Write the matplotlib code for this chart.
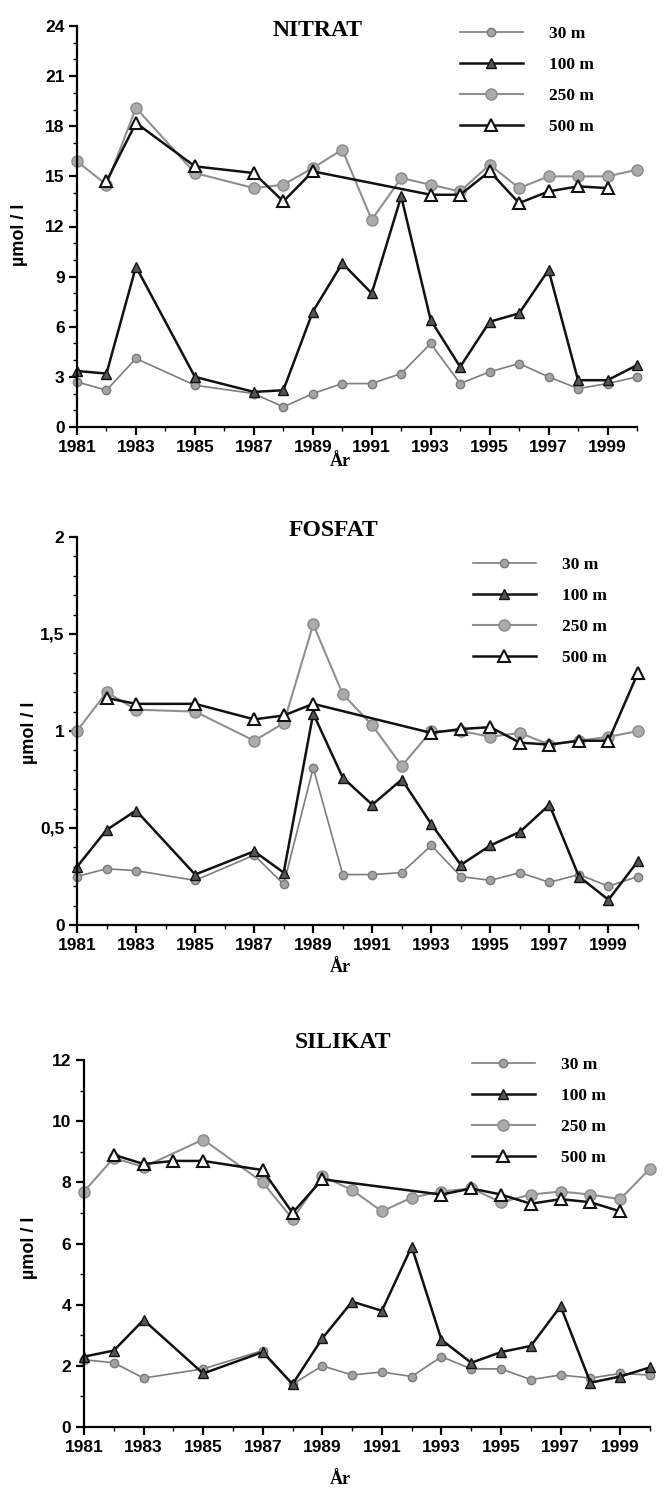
import numpy as np
import matplotlib
matplotlib.use('Agg')
import matplotlib.pyplot as plt
from matplotlib.ticker import FixedLocator, MultipleLocator, FuncFormatter
from matplotlib.font_manager import FontProperties

nan = np.nan
years = list(range(1981, 2001))
depth_labels = ['30 m', '100 m', '250 m', '500 m']

# NITRAT (umol/l)
nitrat_30 = [2.7, 2.2, 4.1, nan, 2.5, nan, 2.0, 1.2, 2.0, 2.6, 2.6, 3.2, 5.0, 2.6, 3.3, 3.8, 3.0, 2.3, 2.6, 3.0]
nitrat_100 = [3.35, 3.2, 9.6, nan, 3.0, nan, 2.1, 2.2, 6.9, 9.8, 8.0, 13.8, 6.4, 3.6, 6.3, 6.8, 9.4, 2.8, 2.8, 3.7]
nitrat_250 = [15.9, 14.5, 19.1, nan, 15.2, nan, 14.3, 14.5, 15.5, 16.6, 12.4, 14.9, 14.5, 14.1, 15.7, 14.3, 15.0, 15.0, 15.0, 15.4]
nitrat_500 = [nan, 14.7, 18.2, nan, 15.6, nan, 15.2, 13.5, 15.3, nan, nan, nan, 13.9, 13.9, 15.3, 13.4, 14.1, 14.4, 14.3, nan]

# FOSFAT
fosfat_30 = [0.25, 0.29, 0.28, nan, 0.23, nan, 0.36, 0.21, 0.81, 0.26, 0.26, 0.27, 0.41, 0.25, 0.23, 0.27, 0.22, 0.26, 0.20, 0.25]
fosfat_100 = [0.30, 0.49, 0.59, nan, 0.26, nan, 0.38, 0.27, 1.09, 0.76, 0.62, 0.75, 0.52, 0.31, 0.41, 0.48, 0.62, 0.25, 0.13, 0.33]
fosfat_250 = [1.00, 1.20, 1.11, nan, 1.10, nan, 0.95, 1.04, 1.55, 1.19, 1.03, 0.82, 1.00, 1.00, 0.97, 0.99, 0.93, 0.95, 0.97, 1.00]
fosfat_500 = [nan, 1.17, 1.14, nan, 1.14, nan, 1.06, 1.08, 1.14, nan, nan, nan, 0.99, 1.01, 1.02, 0.94, 0.93, 0.95, 0.95, 1.30]

# SILIKAT
silikat_30 = [2.2, 2.1, 1.6, nan, 1.9, nan, 2.5, 1.4, 2.0, 1.7, 1.8, 1.65, 2.3, 1.9, 1.9, 1.55, 1.7, 1.6, 1.75, 1.7]
silikat_100 = [2.3, 2.5, 3.5, nan, 1.75, nan, 2.45, 1.4, 2.9, 4.1, 3.8, 5.9, 2.85, 2.1, 2.45, 2.65, 3.95, 1.45, 1.65, 1.95]
silikat_250 = [7.7, 8.8, 8.5, nan, 9.4, nan, 8.0, 6.8, 8.2, 7.75, 7.05, 7.5, 7.7, 7.8, 7.35, 7.6, 7.7, 7.6, 7.45, 8.45]
silikat_500 = [nan, 8.9, 8.6, 8.7, 8.7, nan, 8.4, 7.0, 8.1, nan, nan, nan, 7.6, 7.8, 7.6, 7.3, 7.45, 7.35, 7.05, nan]

labelled_years = list(range(1981, 2000, 2))
other_years = list(range(1982, 2001, 2))

W, H = 664, 1504
fig = plt.figure(figsize=(W / 100, H / 100), dpi=100)

tickfont = FontProperties(family=['Liberation Sans', 'DejaVu Sans'], weight='bold', size=12.5)
serif = ['Liberation Serif', 'DejaVu Serif']

styles = [
    dict(color='#7d7d7d', lw=1.2, marker='o', ms=6, mfc='#a3a3a3', mec='#7a7a7a', mew=1.0),
    dict(color='#111111', lw=1.8, marker='^', ms=7, mfc='#555555', mec='#111111', mew=1.0),
    dict(color='#8f8f8f', lw=1.5, marker='o', ms=8, mfc='#ababab', mec='#8a8a8a', mew=1.0),
    dict(color='#111111', lw=1.8, marker='^', ms=9, mfc='white', mec='#111111', mew=1.5),
]


def px_rect(left, right, top, bottom):
    return [left / W, 1 - bottom / H, (right - left) / W, (bottom - top) / H]


def panel(rect, series, ymax, major, minor, fmt, title, title_xy, xlabel_y, ylabel_xy, leg_xy):
    ax = fig.add_axes(rect)
    x = np.array(years)
    handles = []
    for vals, st, lab in zip(series, styles, depth_labels):
        v = np.array(vals, dtype=float)
        m = ~np.isnan(v)
        h, = ax.plot(x[m], v[m], label=lab, clip_on=False, **st)
        handles.append(h)
    ax.set_xlim(1981, 2000)
    ax.set_ylim(0, ymax)
    for s in ['top', 'right']:
        ax.spines[s].set_visible(False)
    for s in ['left', 'bottom']:
        ax.spines[s].set_linewidth(1.6)
    ax.xaxis.set_major_locator(FixedLocator(labelled_years))
    ax.xaxis.set_minor_locator(FixedLocator(other_years))
    ax.yaxis.set_major_locator(MultipleLocator(major))
    ax.yaxis.set_minor_locator(MultipleLocator(minor))
    ax.yaxis.set_major_formatter(FuncFormatter(fmt))
    ax.tick_params(axis='both', which='major', direction='out', length=6, width=1.6, pad=3)
    ax.tick_params(axis='both', which='minor', direction='out', length=3, width=1.0)
    for lab in ax.get_xticklabels() + ax.get_yticklabels():
        lab.set_fontproperties(tickfont)
    fig.text(title_xy[0] / W, 1 - title_xy[1] / H, title, ha='center', va='center',
             family=serif, weight='bold', size=17)
    fig.text(340 / W, 1 - xlabel_y / H, 'År', ha='center', va='center',
             family=serif, weight='bold', size=13)
    fig.text(ylabel_xy[0] / W, 1 - ylabel_xy[1] / H, 'µmol / l', ha='center', va='center',
             rotation=90, family=['Liberation Sans', 'DejaVu Sans'], weight='bold', size=13)
    ax.legend(handles=handles, loc='upper left',
              bbox_to_anchor=(leg_xy[0] / W, 1 - leg_xy[1] / H), bbox_transform=fig.transFigure,
              frameon=False, handlelength=3.6, handletextpad=1.5, labelspacing=0.85,
              borderaxespad=0, borderpad=0,
              prop=dict(family=serif, weight='bold', size=12.5))
    return ax


def int_fmt(v, p):
    return '%d' % round(v)


def comma_fmt(v, p):
    if abs(v - round(v)) < 1e-9:
        return '%d' % round(v)
    return ('%g' % v).replace('.', ',')


panel(px_rect(77, 637, 26, 427), [nitrat_30, nitrat_100, nitrat_250, nitrat_500],
      24, 3, 1, int_fmt, 'NITRAT', (318, 30), 462, (20, 235), (460, 26))
panel(px_rect(77, 638, 537, 925), [fosfat_30, fosfat_100, fosfat_250, fosfat_500],
      2, 0.5, 0.1, comma_fmt, 'FOSFAT', (333, 530), 968, (30, 733), (473, 557))
panel(px_rect(84, 650, 1060, 1427), [silikat_30, silikat_100, silikat_250, silikat_500],
      12, 2, 1, int_fmt, 'SILIKAT', (343, 1043), 1480, (30, 1248), (472, 1057))

fig.savefig('out.png', dpi=100)
